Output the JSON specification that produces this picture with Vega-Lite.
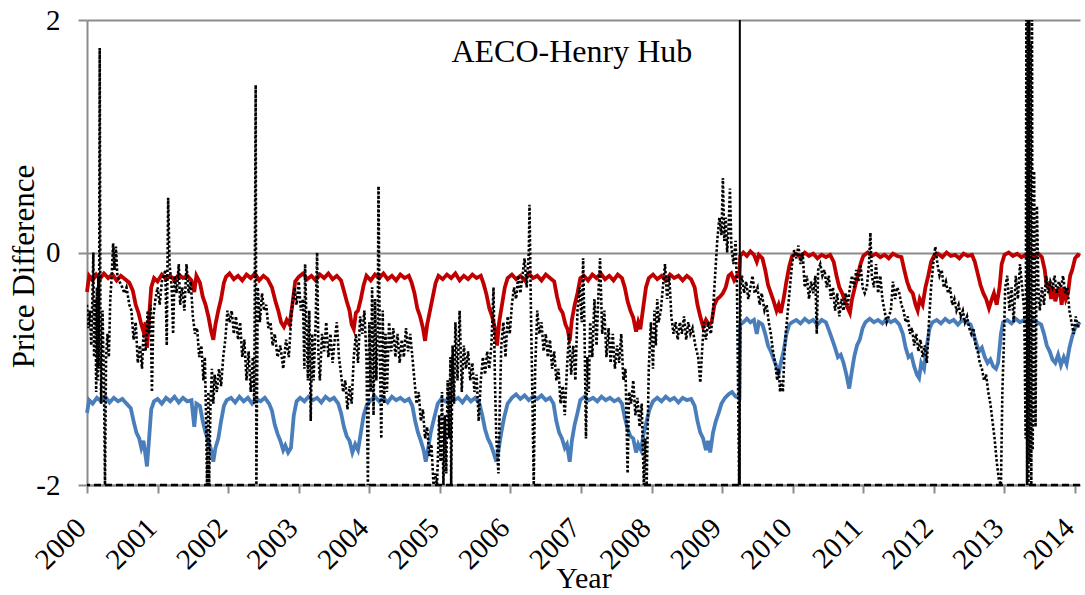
{
"$schema": "https://vega.github.io/schema/vega-lite/v6.json",
"width": 993, "height": 465,
"autosize": "none",
"padding": {"left": 87, "top": 20, "right": 5, "bottom": 110},
"background": "white",
"config": {"view": {"stroke": null}, "font": "Liberation Serif"},
"datasets": {
"red": [
{"t":2000.0,"v":-0.34},{"t":2000.03,"v":-0.2},{"t":2000.08,"v":-0.24},{"t":2000.13,"v":-0.19},{"t":2000.18,"v":-0.23},{"t":2000.24,"v":-0.18},{"t":2000.3,"v":-0.22},{"t":2000.36,"v":-0.19},{"t":2000.42,"v":-0.24},{"t":2000.48,"v":-0.2},{"t":2000.54,"v":-0.23},{"t":2000.6,"v":-0.26},{"t":2000.65,"v":-0.33},{"t":2000.69,"v":-0.45},{"t":2000.73,"v":-0.52},{"t":2000.77,"v":-0.62},{"t":2000.8,"v":-0.68},{"t":2000.83,"v":-0.6},{"t":2000.85,"v":-0.82},{"t":2000.88,"v":-0.55},{"t":2000.91,"v":-0.3},{"t":2000.95,"v":-0.22},
{"t":2001.0,"v":-0.25},{"t":2001.06,"v":-0.19},{"t":2001.12,"v":-0.23},{"t":2001.18,"v":-0.2},{"t":2001.24,"v":-0.24},{"t":2001.3,"v":-0.19},{"t":2001.36,"v":-0.22},{"t":2001.42,"v":-0.2},{"t":2001.48,"v":-0.24},{"t":2001.52,"v":-0.34},{"t":2001.55,"v":-0.2},{"t":2001.6,"v":-0.26},{"t":2001.64,"v":-0.38},{"t":2001.68,"v":-0.45},{"t":2001.72,"v":-0.55},{"t":2001.76,"v":-0.68},{"t":2001.79,"v":-0.75},{"t":2001.82,"v":-0.62},{"t":2001.86,"v":-0.5},{"t":2001.9,"v":-0.4},{"t":2001.94,"v":-0.26},{"t":2001.97,"v":-0.21},
{"t":2002.02,"v":-0.18},{"t":2002.08,"v":-0.23},{"t":2002.14,"v":-0.2},{"t":2002.2,"v":-0.24},{"t":2002.26,"v":-0.19},{"t":2002.32,"v":-0.22},{"t":2002.38,"v":-0.18},{"t":2002.44,"v":-0.24},{"t":2002.5,"v":-0.2},{"t":2002.56,"v":-0.23},{"t":2002.62,"v":-0.3},{"t":2002.67,"v":-0.42},{"t":2002.71,"v":-0.5},{"t":2002.75,"v":-0.6},{"t":2002.79,"v":-0.64},{"t":2002.83,"v":-0.58},{"t":2002.87,"v":-0.62},{"t":2002.91,"v":-0.45},{"t":2002.95,"v":-0.25},
{"t":2003.0,"v":-0.21},{"t":2003.06,"v":-0.18},{"t":2003.12,"v":-0.23},{"t":2003.18,"v":-0.2},{"t":2003.24,"v":-0.24},{"t":2003.3,"v":-0.19},{"t":2003.36,"v":-0.22},{"t":2003.42,"v":-0.18},{"t":2003.48,"v":-0.23},{"t":2003.54,"v":-0.2},{"t":2003.6,"v":-0.24},{"t":2003.64,"v":-0.33},{"t":2003.68,"v":-0.42},{"t":2003.72,"v":-0.5},{"t":2003.75,"v":-0.62},{"t":2003.78,"v":-0.66},{"t":2003.81,"v":-0.52},{"t":2003.84,"v":-0.5},{"t":2003.88,"v":-0.4},{"t":2003.92,"v":-0.28},{"t":2003.96,"v":-0.2},
{"t":2004.02,"v":-0.24},{"t":2004.08,"v":-0.19},{"t":2004.14,"v":-0.22},{"t":2004.2,"v":-0.18},{"t":2004.26,"v":-0.23},{"t":2004.32,"v":-0.2},{"t":2004.38,"v":-0.24},{"t":2004.44,"v":-0.19},{"t":2004.5,"v":-0.22},{"t":2004.56,"v":-0.2},{"t":2004.6,"v":-0.26},{"t":2004.64,"v":-0.35},{"t":2004.68,"v":-0.48},{"t":2004.72,"v":-0.55},{"t":2004.76,"v":-0.65},{"t":2004.79,"v":-0.76},{"t":2004.82,"v":-0.62},{"t":2004.86,"v":-0.5},{"t":2004.9,"v":-0.38},{"t":2004.94,"v":-0.26},{"t":2004.98,"v":-0.2},
{"t":2005.04,"v":-0.23},{"t":2005.1,"v":-0.19},{"t":2005.16,"v":-0.22},{"t":2005.22,"v":-0.18},{"t":2005.28,"v":-0.24},{"t":2005.34,"v":-0.2},{"t":2005.4,"v":-0.23},{"t":2005.46,"v":-0.19},{"t":2005.52,"v":-0.22},{"t":2005.58,"v":-0.2},{"t":2005.62,"v":-0.27},{"t":2005.66,"v":-0.36},{"t":2005.7,"v":-0.48},{"t":2005.74,"v":-0.55},{"t":2005.78,"v":-0.65},{"t":2005.81,"v":-0.8},{"t":2005.84,"v":-0.6},{"t":2005.88,"v":-0.45},{"t":2005.92,"v":-0.3},{"t":2005.96,"v":-0.22},
{"t":2006.02,"v":-0.19},{"t":2006.08,"v":-0.23},{"t":2006.14,"v":-0.2},{"t":2006.2,"v":-0.24},{"t":2006.26,"v":-0.18},{"t":2006.32,"v":-0.22},{"t":2006.38,"v":-0.2},{"t":2006.44,"v":-0.24},{"t":2006.5,"v":-0.19},{"t":2006.56,"v":-0.22},{"t":2006.62,"v":-0.25},{"t":2006.66,"v":-0.38},{"t":2006.7,"v":-0.48},{"t":2006.74,"v":-0.52},{"t":2006.78,"v":-0.62},{"t":2006.81,"v":-0.66},{"t":2006.84,"v":-0.76},{"t":2006.87,"v":-0.58},{"t":2006.91,"v":-0.45},{"t":2006.95,"v":-0.35},{"t":2006.99,"v":-0.22},
{"t":2007.04,"v":-0.2},{"t":2007.1,"v":-0.24},{"t":2007.16,"v":-0.19},{"t":2007.22,"v":-0.22},{"t":2007.28,"v":-0.18},{"t":2007.34,"v":-0.23},{"t":2007.4,"v":-0.2},{"t":2007.46,"v":-0.24},{"t":2007.52,"v":-0.19},{"t":2007.58,"v":-0.22},{"t":2007.62,"v":-0.3},{"t":2007.66,"v":-0.42},{"t":2007.7,"v":-0.5},{"t":2007.74,"v":-0.56},{"t":2007.78,"v":-0.68},{"t":2007.81,"v":-0.6},{"t":2007.84,"v":-0.66},{"t":2007.88,"v":-0.48},{"t":2007.92,"v":-0.3},{"t":2007.96,"v":-0.22},
{"t":2008.02,"v":-0.19},{"t":2008.08,"v":-0.23},{"t":2008.14,"v":-0.2},{"t":2008.2,"v":-0.24},{"t":2008.26,"v":-0.19},{"t":2008.32,"v":-0.22},{"t":2008.38,"v":-0.2},{"t":2008.44,"v":-0.24},{"t":2008.5,"v":-0.2},{"t":2008.56,"v":-0.23},{"t":2008.61,"v":-0.3},{"t":2008.65,"v":-0.45},{"t":2008.69,"v":-0.55},{"t":2008.73,"v":-0.64},{"t":2008.77,"v":-0.58},{"t":2008.81,"v":-0.62},{"t":2008.85,"v":-0.6},{"t":2008.89,"v":-0.45},{"t":2008.93,"v":-0.4},{"t":2008.97,"v":-0.38},{"t":2009.01,"v":-0.35},{"t":2009.05,"v":-0.3},{"t":2009.09,"v":-0.2},{"t":2009.13,"v":-0.18},{"t":2009.17,"v":-0.24},{"t":2009.21,"v":-0.2},{"t":2009.245,"v":-0.21},{"t":2009.255,"v":-0.03},
{"t":2009.3,"v":0.0},{"t":2009.35,"v":-0.03},{"t":2009.4,"v":0.01},{"t":2009.45,"v":-0.02},{"t":2009.49,"v":-0.08},{"t":2009.52,"v":-0.02},{"t":2009.57,"v":-0.05},{"t":2009.61,"v":-0.15},{"t":2009.65,"v":-0.28},{"t":2009.69,"v":-0.35},{"t":2009.73,"v":-0.42},{"t":2009.77,"v":-0.5},{"t":2009.8,"v":-0.45},{"t":2009.83,"v":-0.52},{"t":2009.87,"v":-0.4},{"t":2009.91,"v":-0.25},{"t":2009.95,"v":-0.12},{"t":2009.99,"v":-0.03},
{"t":2010.05,"v":-0.01},{"t":2010.11,"v":-0.04},{"t":2010.17,"v":0.0},{"t":2010.23,"v":-0.03},{"t":2010.29,"v":-0.01},{"t":2010.35,"v":-0.05},{"t":2010.41,"v":-0.02},{"t":2010.47,"v":-0.04},{"t":2010.53,"v":-0.02},{"t":2010.58,"v":-0.08},{"t":2010.62,"v":-0.2},{"t":2010.66,"v":-0.3},{"t":2010.7,"v":-0.35},{"t":2010.74,"v":-0.42},{"t":2010.78,"v":-0.48},{"t":2010.81,"v":-0.52},{"t":2010.84,"v":-0.4},{"t":2010.88,"v":-0.3},{"t":2010.92,"v":-0.2},{"t":2010.96,"v":-0.1},{"t":2011.0,"v":-0.03},
{"t":2011.06,"v":0.0},{"t":2011.12,"v":-0.03},{"t":2011.18,"v":-0.01},{"t":2011.24,"v":-0.04},{"t":2011.3,"v":-0.02},{"t":2011.36,"v":-0.05},{"t":2011.42,"v":-0.01},{"t":2011.48,"v":-0.03},{"t":2011.54,"v":-0.04},{"t":2011.58,"v":-0.15},{"t":2011.62,"v":-0.25},{"t":2011.66,"v":-0.32},{"t":2011.7,"v":-0.35},{"t":2011.74,"v":-0.45},{"t":2011.77,"v":-0.5},{"t":2011.8,"v":-0.4},{"t":2011.84,"v":-0.45},{"t":2011.88,"v":-0.3},{"t":2011.92,"v":-0.2},{"t":2011.96,"v":-0.08},{"t":2012.0,"v":-0.03},
{"t":2012.06,"v":-0.01},{"t":2012.12,"v":-0.04},{"t":2012.18,"v":0.0},{"t":2012.24,"v":-0.03},{"t":2012.3,"v":-0.02},{"t":2012.36,"v":-0.05},{"t":2012.42,"v":-0.01},{"t":2012.48,"v":-0.03},{"t":2012.54,"v":-0.02},{"t":2012.58,"v":-0.08},{"t":2012.62,"v":-0.18},{"t":2012.66,"v":-0.28},{"t":2012.7,"v":-0.35},{"t":2012.74,"v":-0.4},{"t":2012.78,"v":-0.48},{"t":2012.81,"v":-0.42},{"t":2012.85,"v":-0.35},{"t":2012.89,"v":-0.45},{"t":2012.93,"v":-0.3},{"t":2012.96,"v":-0.1},{"t":2013.0,"v":-0.02},
{"t":2013.06,"v":0.0},{"t":2013.12,"v":-0.03},{"t":2013.18,"v":-0.01},{"t":2013.24,"v":-0.04},{"t":2013.3,"v":-0.02},{"t":2013.36,"v":0.0},{"t":2013.42,"v":-0.03},{"t":2013.48,"v":-0.01},{"t":2013.53,"v":-0.04},{"t":2013.57,"v":-0.15},{"t":2013.6,"v":-0.3},{"t":2013.63,"v":-0.25},{"t":2013.66,"v":-0.4},{"t":2013.69,"v":-0.3},{"t":2013.72,"v":-0.42},{"t":2013.75,"v":-0.35},{"t":2013.78,"v":-0.3},{"t":2013.81,"v":-0.45},{"t":2013.84,"v":-0.3},{"t":2013.87,"v":-0.4},{"t":2013.9,"v":-0.35},{"t":2013.93,"v":-0.2},{"t":2013.96,"v":-0.15},{"t":2014.0,"v":-0.05},{"t":2014.04,"v":-0.02},{"t":2014.07,"v":-0.03}
],
"blue": [
{"t":2000.0,"v":-1.38},{"t":2000.03,"v":-1.27},{"t":2000.08,"v":-1.3},{"t":2000.14,"v":-1.25},{"t":2000.2,"v":-1.28},{"t":2000.26,"v":-1.24},{"t":2000.32,"v":-1.29},{"t":2000.38,"v":-1.25},{"t":2000.44,"v":-1.28},{"t":2000.5,"v":-1.26},{"t":2000.56,"v":-1.3},{"t":2000.62,"v":-1.34},{"t":2000.66,"v":-1.45},{"t":2000.7,"v":-1.55},{"t":2000.74,"v":-1.6},{"t":2000.77,"v":-1.68},{"t":2000.8,"v":-1.62},{"t":2000.83,"v":-1.75},{"t":2000.85,"v":-1.84},{"t":2000.88,"v":-1.6},{"t":2000.91,"v":-1.35},{"t":2000.95,"v":-1.28},
{"t":2001.0,"v":-1.26},{"t":2001.06,"v":-1.3},{"t":2001.12,"v":-1.25},{"t":2001.18,"v":-1.28},{"t":2001.24,"v":-1.24},{"t":2001.3,"v":-1.29},{"t":2001.36,"v":-1.25},{"t":2001.42,"v":-1.28},{"t":2001.48,"v":-1.27},{"t":2001.52,"v":-1.5},{"t":2001.55,"v":-1.3},{"t":2001.6,"v":-1.32},{"t":2001.64,"v":-1.45},{"t":2001.68,"v":-1.55},{"t":2001.72,"v":-1.62},{"t":2001.76,"v":-1.7},{"t":2001.79,"v":-1.8},{"t":2001.82,"v":-1.68},{"t":2001.86,"v":-1.6},{"t":2001.9,"v":-1.45},{"t":2001.94,"v":-1.32},{"t":2001.98,"v":-1.27},
{"t":2002.04,"v":-1.25},{"t":2002.1,"v":-1.29},{"t":2002.16,"v":-1.24},{"t":2002.22,"v":-1.28},{"t":2002.28,"v":-1.25},{"t":2002.34,"v":-1.3},{"t":2002.4,"v":-1.26},{"t":2002.46,"v":-1.28},{"t":2002.52,"v":-1.25},{"t":2002.58,"v":-1.3},{"t":2002.62,"v":-1.36},{"t":2002.66,"v":-1.48},{"t":2002.7,"v":-1.56},{"t":2002.74,"v":-1.62},{"t":2002.78,"v":-1.7},{"t":2002.81,"v":-1.66},{"t":2002.85,"v":-1.72},{"t":2002.89,"v":-1.68},{"t":2002.93,"v":-1.4},{"t":2002.97,"v":-1.28},
{"t":2003.02,"v":-1.25},{"t":2003.08,"v":-1.28},{"t":2003.14,"v":-1.24},{"t":2003.2,"v":-1.27},{"t":2003.26,"v":-1.25},{"t":2003.32,"v":-1.29},{"t":2003.38,"v":-1.24},{"t":2003.44,"v":-1.27},{"t":2003.5,"v":-1.25},{"t":2003.56,"v":-1.3},{"t":2003.6,"v":-1.38},{"t":2003.64,"v":-1.5},{"t":2003.68,"v":-1.58},{"t":2003.72,"v":-1.62},{"t":2003.76,"v":-1.72},{"t":2003.8,"v":-1.65},{"t":2003.84,"v":-1.7},{"t":2003.88,"v":-1.55},{"t":2003.92,"v":-1.4},{"t":2003.96,"v":-1.32},
{"t":2004.02,"v":-1.27},{"t":2004.08,"v":-1.24},{"t":2004.14,"v":-1.28},{"t":2004.2,"v":-1.25},{"t":2004.26,"v":-1.29},{"t":2004.32,"v":-1.24},{"t":2004.38,"v":-1.27},{"t":2004.44,"v":-1.25},{"t":2004.5,"v":-1.28},{"t":2004.56,"v":-1.26},{"t":2004.61,"v":-1.32},{"t":2004.65,"v":-1.45},{"t":2004.69,"v":-1.55},{"t":2004.73,"v":-1.62},{"t":2004.77,"v":-1.7},{"t":2004.8,"v":-1.8},{"t":2004.83,"v":-1.7},{"t":2004.87,"v":-1.55},{"t":2004.92,"v":-1.42},{"t":2004.97,"v":-1.3},
{"t":2005.02,"v":-1.26},{"t":2005.08,"v":-1.28},{"t":2005.14,"v":-1.24},{"t":2005.2,"v":-1.27},{"t":2005.26,"v":-1.25},{"t":2005.32,"v":-1.29},{"t":2005.38,"v":-1.24},{"t":2005.44,"v":-1.28},{"t":2005.5,"v":-1.25},{"t":2005.56,"v":-1.3},{"t":2005.6,"v":-1.4},{"t":2005.64,"v":-1.52},{"t":2005.68,"v":-1.6},{"t":2005.72,"v":-1.65},{"t":2005.76,"v":-1.72},{"t":2005.8,"v":-1.8},{"t":2005.83,"v":-1.7},{"t":2005.87,"v":-1.55},{"t":2005.91,"v":-1.42},{"t":2005.96,"v":-1.3},
{"t":2006.02,"v":-1.25},{"t":2006.08,"v":-1.22},{"t":2006.14,"v":-1.26},{"t":2006.2,"v":-1.23},{"t":2006.26,"v":-1.27},{"t":2006.32,"v":-1.24},{"t":2006.38,"v":-1.26},{"t":2006.44,"v":-1.23},{"t":2006.5,"v":-1.27},{"t":2006.56,"v":-1.25},{"t":2006.61,"v":-1.3},{"t":2006.65,"v":-1.45},{"t":2006.69,"v":-1.55},{"t":2006.73,"v":-1.6},{"t":2006.77,"v":-1.68},{"t":2006.8,"v":-1.65},{"t":2006.84,"v":-1.8},{"t":2006.87,"v":-1.62},{"t":2006.91,"v":-1.48},{"t":2006.95,"v":-1.38},{"t":2006.99,"v":-1.27},
{"t":2007.05,"v":-1.24},{"t":2007.11,"v":-1.27},{"t":2007.17,"v":-1.25},{"t":2007.23,"v":-1.28},{"t":2007.29,"v":-1.24},{"t":2007.35,"v":-1.27},{"t":2007.41,"v":-1.25},{"t":2007.47,"v":-1.28},{"t":2007.53,"v":-1.26},{"t":2007.58,"v":-1.3},{"t":2007.62,"v":-1.42},{"t":2007.66,"v":-1.52},{"t":2007.7,"v":-1.58},{"t":2007.74,"v":-1.6},{"t":2007.78,"v":-1.72},{"t":2007.81,"v":-1.65},{"t":2007.85,"v":-1.7},{"t":2007.89,"v":-1.55},{"t":2007.93,"v":-1.45},{"t":2007.97,"v":-1.35},
{"t":2008.02,"v":-1.28},{"t":2008.08,"v":-1.25},{"t":2008.14,"v":-1.28},{"t":2008.2,"v":-1.24},{"t":2008.26,"v":-1.27},{"t":2008.32,"v":-1.25},{"t":2008.38,"v":-1.29},{"t":2008.44,"v":-1.25},{"t":2008.5,"v":-1.27},{"t":2008.56,"v":-1.26},{"t":2008.61,"v":-1.32},{"t":2008.65,"v":-1.45},{"t":2008.69,"v":-1.55},{"t":2008.73,"v":-1.6},{"t":2008.77,"v":-1.7},{"t":2008.8,"v":-1.62},{"t":2008.83,"v":-1.72},{"t":2008.87,"v":-1.55},{"t":2008.91,"v":-1.45},{"t":2008.95,"v":-1.38},{"t":2008.99,"v":-1.3},{"t":2009.04,"v":-1.25},{"t":2009.09,"v":-1.22},{"t":2009.14,"v":-1.2},{"t":2009.19,"v":-1.24},{"t":2009.245,"v":-1.25},{"t":2009.255,"v":-0.62},
{"t":2009.3,"v":-0.6},{"t":2009.35,"v":-0.57},{"t":2009.4,"v":-0.6},{"t":2009.45,"v":-0.58},{"t":2009.49,"v":-0.7},{"t":2009.52,"v":-0.6},{"t":2009.57,"v":-0.62},{"t":2009.61,"v":-0.7},{"t":2009.65,"v":-0.8},{"t":2009.69,"v":-0.85},{"t":2009.73,"v":-0.92},{"t":2009.77,"v":-0.98},{"t":2009.8,"v":-1.05},{"t":2009.83,"v":-0.95},{"t":2009.87,"v":-0.85},{"t":2009.91,"v":-0.7},{"t":2009.95,"v":-0.62},{"t":2009.99,"v":-0.6},
{"t":2010.05,"v":-0.58},{"t":2010.11,"v":-0.61},{"t":2010.17,"v":-0.57},{"t":2010.23,"v":-0.6},{"t":2010.29,"v":-0.58},{"t":2010.35,"v":-0.62},{"t":2010.41,"v":-0.58},{"t":2010.47,"v":-0.6},{"t":2010.52,"v":-0.68},{"t":2010.56,"v":-0.75},{"t":2010.6,"v":-0.82},{"t":2010.64,"v":-0.9},{"t":2010.68,"v":-0.88},{"t":2010.72,"v":-0.95},{"t":2010.76,"v":-1.05},{"t":2010.8,"v":-1.17},{"t":2010.83,"v":-1.05},{"t":2010.87,"v":-0.9},{"t":2010.91,"v":-0.8},{"t":2010.95,"v":-0.75},{"t":2010.99,"v":-0.65},
{"t":2011.03,"v":-0.6},{"t":2011.09,"v":-0.57},{"t":2011.15,"v":-0.6},{"t":2011.21,"v":-0.58},{"t":2011.27,"v":-0.61},{"t":2011.33,"v":-0.57},{"t":2011.39,"v":-0.6},{"t":2011.45,"v":-0.58},{"t":2011.51,"v":-0.62},{"t":2011.56,"v":-0.7},{"t":2011.6,"v":-0.82},{"t":2011.64,"v":-0.9},{"t":2011.68,"v":-0.88},{"t":2011.72,"v":-0.98},{"t":2011.76,"v":-1.05},{"t":2011.79,"v":-1.08},{"t":2011.82,"v":-0.95},{"t":2011.86,"v":-1.0},{"t":2011.9,"v":-0.8},{"t":2011.94,"v":-0.65},{"t":2011.98,"v":-0.6},
{"t":2012.04,"v":-0.58},{"t":2012.1,"v":-0.61},{"t":2012.16,"v":-0.57},{"t":2012.22,"v":-0.6},{"t":2012.28,"v":-0.58},{"t":2012.34,"v":-0.62},{"t":2012.4,"v":-0.58},{"t":2012.46,"v":-0.6},{"t":2012.52,"v":-0.62},{"t":2012.56,"v":-0.7},{"t":2012.6,"v":-0.78},{"t":2012.64,"v":-0.85},{"t":2012.68,"v":-0.82},{"t":2012.72,"v":-0.9},{"t":2012.76,"v":-0.95},{"t":2012.8,"v":-0.92},{"t":2012.84,"v":-0.98},{"t":2012.88,"v":-1.0},{"t":2012.91,"v":-0.95},{"t":2012.95,"v":-0.7},{"t":2012.98,"v":-0.6},
{"t":2013.04,"v":-0.58},{"t":2013.1,"v":-0.61},{"t":2013.16,"v":-0.57},{"t":2013.22,"v":-0.6},{"t":2013.28,"v":-0.58},{"t":2013.34,"v":-0.62},{"t":2013.4,"v":-0.58},{"t":2013.46,"v":-0.6},{"t":2013.52,"v":-0.62},{"t":2013.56,"v":-0.7},{"t":2013.6,"v":-0.8},{"t":2013.64,"v":-0.85},{"t":2013.68,"v":-0.92},{"t":2013.72,"v":-0.95},{"t":2013.76,"v":-0.88},{"t":2013.8,"v":-0.97},{"t":2013.84,"v":-0.9},{"t":2013.88,"v":-0.96},{"t":2013.92,"v":-0.82},{"t":2013.96,"v":-0.72},{"t":2014.0,"v":-0.65},{"t":2014.04,"v":-0.62},{"t":2014.07,"v":-0.6}
],
"act": [
{"t":2000.0,"v":-0.45},{"t":2000.02,"v":-0.65},{"t":2000.04,"v":-0.5},{"t":2000.06,"v":-0.8},{"t":2000.08,"v":-0.3},{"t":2000.09,"v":0.0},{"t":2000.1,"v":-0.9},{"t":2000.12,"v":-0.4},{"t":2000.13,"v":-1.2},{"t":2000.14,"v":-0.3},{"t":2000.15,"v":-1.1},{"t":2000.16,"v":-0.2},{"t":2000.17,"v":-1.0},{"t":2000.18,"v":1.76},{"t":2000.19,"v":-0.6},{"t":2000.2,"v":-1.3},{"t":2000.22,"v":-0.5},{"t":2000.24,"v":-1.1},{"t":2000.255,"v":-2},{"t":2000.27,"v":-0.9},{"t":2000.29,"v":-0.7},{"t":2000.31,"v":-0.9},{"t":2000.33,"v":-0.4},{"t":2000.35,"v":-0.2},{"t":2000.37,"v":0.08},{"t":2000.39,"v":-0.15},{"t":2000.41,"v":0.05},{"t":2000.43,"v":-0.2},{"t":2000.46,"v":-0.25},{"t":2000.5,"v":-0.3},{"t":2000.53,"v":-0.35},{"t":2000.56,"v":-0.3},{"t":2000.6,"v":-0.45},{"t":2000.63,"v":-0.5},{"t":2000.66,"v":-0.75},{"t":2000.69,"v":-0.6},{"t":2000.72,"v":-0.95},{"t":2000.75,"v":-0.8},{"t":2000.78,"v":-1.0},{"t":2000.8,"v":-0.7},{"t":2000.83,"v":-0.85},{"t":2000.86,"v":-0.5},{"t":2000.88,"v":-0.7},{"t":2000.9,"v":-0.45},{"t":2000.92,"v":-1.2},{"t":2000.94,"v":-0.55},{"t":2000.97,"v":-0.4},
{"t":2001.0,"v":-0.3},{"t":2001.03,"v":-0.45},{"t":2001.06,"v":-0.25},{"t":2001.09,"v":-0.2},{"t":2001.11,"v":-0.15},{"t":2001.13,"v":-0.8},{"t":2001.15,"v":0.47},{"t":2001.17,"v":-0.1},{"t":2001.2,"v":-0.3},{"t":2001.22,"v":-0.7},{"t":2001.24,"v":-0.2},{"t":2001.27,"v":-0.35},{"t":2001.3,"v":-0.1},{"t":2001.32,"v":-0.45},{"t":2001.35,"v":-0.3},{"t":2001.38,"v":-0.5},{"t":2001.41,"v":-0.1},{"t":2001.44,"v":-0.35},{"t":2001.47,"v":-0.25},{"t":2001.5,"v":-0.55},{"t":2001.53,"v":-0.7},{"t":2001.56,"v":-0.65},{"t":2001.59,"v":-0.9},{"t":2001.62,"v":-0.8},{"t":2001.65,"v":-1.1},{"t":2001.67,"v":-0.9},{"t":2001.69,"v":-1.5},{"t":2001.7,"v":-2},{"t":2001.72,"v":-1.2},{"t":2001.73,"v":-2},{"t":2001.75,"v":-1.3},{"t":2001.77,"v":-1.0},{"t":2001.79,"v":-1.3},{"t":2001.81,"v":-1.05},{"t":2001.84,"v":-1.2},{"t":2001.87,"v":-1.0},{"t":2001.9,"v":-1.15},{"t":2001.93,"v":-0.9},{"t":2001.96,"v":-0.75},{"t":2001.99,"v":-0.5},
{"t":2002.02,"v":-0.6},{"t":2002.05,"v":-0.5},{"t":2002.08,"v":-0.7},{"t":2002.11,"v":-0.55},{"t":2002.14,"v":-0.75},{"t":2002.17,"v":-0.6},{"t":2002.2,"v":-0.9},{"t":2002.23,"v":-0.75},{"t":2002.26,"v":-1.1},{"t":2002.29,"v":-0.85},{"t":2002.32,"v":-1.2},{"t":2002.35,"v":-0.9},{"t":2002.37,"v":-1.3},{"t":2002.39,"v":1.44},{"t":2002.4,"v":-2},{"t":2002.42,"v":-0.3},{"t":2002.45,"v":-0.6},{"t":2002.48,"v":-0.35},{"t":2002.51,"v":-0.5},{"t":2002.54,"v":-0.45},{"t":2002.57,"v":-0.65},{"t":2002.6,"v":-0.6},{"t":2002.63,"v":-0.8},{"t":2002.66,"v":-0.7},{"t":2002.7,"v":-0.9},{"t":2002.74,"v":-0.8},{"t":2002.78,"v":-1.0},{"t":2002.82,"v":-0.75},{"t":2002.86,"v":-0.9},{"t":2002.9,"v":-0.5},{"t":2002.94,"v":-0.3},{"t":2002.97,"v":-0.45},
{"t":2003.0,"v":-0.25},{"t":2003.03,"v":-0.5},{"t":2003.06,"v":-0.4},{"t":2003.08,"v":-1.0},{"t":2003.09,"v":-0.1},{"t":2003.11,"v":-0.6},{"t":2003.13,"v":-1.1},{"t":2003.15,"v":-0.5},{"t":2003.17,"v":-1.45},{"t":2003.19,"v":-0.7},{"t":2003.21,"v":-1.1},{"t":2003.24,"v":-0.6},{"t":2003.26,"v":0.0},{"t":2003.28,"v":-0.9},{"t":2003.3,"v":-1.1},{"t":2003.33,"v":-0.7},{"t":2003.36,"v":-0.85},{"t":2003.39,"v":-0.6},{"t":2003.42,"v":-0.9},{"t":2003.45,"v":-0.7},{"t":2003.48,"v":-0.95},{"t":2003.51,"v":-0.75},{"t":2003.54,"v":-0.6},{"t":2003.57,"v":-0.9},{"t":2003.6,"v":-1.05},{"t":2003.63,"v":-1.2},{"t":2003.66,"v":-1.1},{"t":2003.69,"v":-1.35},{"t":2003.72,"v":-1.15},{"t":2003.75,"v":-1.3},{"t":2003.78,"v":-0.9},{"t":2003.81,"v":-0.7},{"t":2003.84,"v":-0.95},{"t":2003.87,"v":-0.55},{"t":2003.9,"v":-0.7},{"t":2003.93,"v":-0.5},{"t":2003.96,"v":-0.9},{"t":2003.98,"v":-2},{"t":2004.0,"v":-0.6},
{"t":2004.02,"v":-1.2},{"t":2004.04,"v":-0.3},{"t":2004.06,"v":-1.4},{"t":2004.08,"v":-0.4},{"t":2004.1,"v":-1.1},{"t":2004.12,"v":-0.6},{"t":2004.13,"v":0.57},{"t":2004.15,"v":-0.9},{"t":2004.17,"v":-1.6},{"t":2004.19,"v":-0.5},{"t":2004.21,"v":-1.3},{"t":2004.23,"v":-0.7},{"t":2004.25,"v":-1.2},{"t":2004.28,"v":-0.6},{"t":2004.31,"v":-0.85},{"t":2004.34,"v":-0.65},{"t":2004.37,"v":-0.9},{"t":2004.4,"v":-0.7},{"t":2004.43,"v":-0.95},{"t":2004.46,"v":-0.75},{"t":2004.49,"v":-0.9},{"t":2004.52,"v":-0.65},{"t":2004.55,"v":-0.85},{"t":2004.58,"v":-0.7},{"t":2004.61,"v":-0.9},{"t":2004.64,"v":-1.1},{"t":2004.67,"v":-1.3},{"t":2004.7,"v":-1.2},{"t":2004.73,"v":-1.45},{"t":2004.76,"v":-1.35},{"t":2004.79,"v":-1.6},{"t":2004.82,"v":-1.5},{"t":2004.85,"v":-1.75},{"t":2004.88,"v":-1.65},{"t":2004.91,"v":-2},{"t":2004.93,"v":-1.9},{"t":2004.96,"v":-2},{"t":2004.99,"v":-1.4},
{"t":2005.01,"v":-1.8},{"t":2005.03,"v":-1.2},{"t":2005.05,"v":-2},{"t":2005.07,"v":-1.4},{"t":2005.09,"v":-1.9},{"t":2005.11,"v":-1.1},{"t":2005.13,"v":-1.6},{"t":2005.15,"v":-0.9},{"t":2005.16,"v":-2},{"t":2005.18,"v":-0.8},{"t":2005.2,"v":-1.3},{"t":2005.22,"v":-0.6},{"t":2005.25,"v":-1.1},{"t":2005.28,"v":-0.5},{"t":2005.31,"v":-1.2},{"t":2005.34,"v":-0.8},{"t":2005.37,"v":-1.0},{"t":2005.4,"v":-0.85},{"t":2005.43,"v":-1.1},{"t":2005.46,"v":-0.95},{"t":2005.49,"v":-1.2},{"t":2005.52,"v":-1.05},{"t":2005.55,"v":-1.45},{"t":2005.58,"v":-1.1},{"t":2005.61,"v":-0.9},{"t":2005.64,"v":-1.05},{"t":2005.67,"v":-0.85},{"t":2005.7,"v":-1.0},{"t":2005.73,"v":-0.8},{"t":2005.76,"v":-0.3},{"t":2005.78,"v":-1.1},{"t":2005.8,"v":-1.6},{"t":2005.83,"v":-1.9},{"t":2005.85,"v":-1.3},{"t":2005.87,"v":-0.8},{"t":2005.9,"v":-0.6},{"t":2005.93,"v":-0.9},{"t":2005.96,"v":-0.55},{"t":2005.99,"v":-0.7},
{"t":2006.02,"v":-0.45},{"t":2006.05,"v":-0.3},{"t":2006.08,"v":-0.4},{"t":2006.11,"v":-0.2},{"t":2006.14,"v":-0.35},{"t":2006.17,"v":-0.2},{"t":2006.2,"v":-0.05},{"t":2006.23,"v":-0.3},{"t":2006.26,"v":0.0},{"t":2006.27,"v":0.41},{"t":2006.29,"v":-0.5},{"t":2006.31,"v":-1.2},{"t":2006.33,"v":-2},{"t":2006.35,"v":-1.0},{"t":2006.38,"v":-0.5},{"t":2006.41,"v":-0.7},{"t":2006.44,"v":-0.6},{"t":2006.47,"v":-0.85},{"t":2006.5,"v":-0.7},{"t":2006.53,"v":-0.9},{"t":2006.56,"v":-0.75},{"t":2006.59,"v":-1.0},{"t":2006.62,"v":-0.85},{"t":2006.65,"v":-1.1},{"t":2006.68,"v":-1.0},{"t":2006.71,"v":-1.3},{"t":2006.74,"v":-1.15},{"t":2006.77,"v":-1.4},{"t":2006.8,"v":-1.0},{"t":2006.83,"v":-0.7},{"t":2006.86,"v":-1.05},{"t":2006.89,"v":-0.8},{"t":2006.92,"v":-1.1},{"t":2006.95,"v":-0.5},{"t":2006.98,"v":-0.3},
{"t":2007.01,"v":-0.6},{"t":2007.03,"v":-0.05},{"t":2007.05,"v":-0.7},{"t":2007.07,"v":-1.6},{"t":2007.09,"v":-0.9},{"t":2007.11,"v":-1.2},{"t":2007.13,"v":-0.6},{"t":2007.16,"v":-0.9},{"t":2007.19,"v":-0.4},{"t":2007.22,"v":-0.8},{"t":2007.25,"v":-0.3},{"t":2007.27,"v":-0.05},{"t":2007.3,"v":-0.7},{"t":2007.33,"v":-0.5},{"t":2007.36,"v":-0.9},{"t":2007.39,"v":-0.65},{"t":2007.42,"v":-0.95},{"t":2007.45,"v":-0.7},{"t":2007.48,"v":-1.0},{"t":2007.51,"v":-0.8},{"t":2007.54,"v":-0.95},{"t":2007.57,"v":-0.7},{"t":2007.6,"v":-1.1},{"t":2007.63,"v":-1.0},{"t":2007.66,"v":-1.9},{"t":2007.68,"v":-1.2},{"t":2007.71,"v":-1.3},{"t":2007.74,"v":-1.1},{"t":2007.77,"v":-1.4},{"t":2007.8,"v":-1.25},{"t":2007.83,"v":-1.5},{"t":2007.86,"v":-1.3},{"t":2007.89,"v":-2},{"t":2007.91,"v":-1.6},{"t":2007.93,"v":-2},{"t":2007.96,"v":-1.0},{"t":2007.99,"v":-0.6},
{"t":2008.02,"v":-1.0},{"t":2008.04,"v":-0.5},{"t":2008.06,"v":-0.8},{"t":2008.08,"v":-0.4},{"t":2008.1,"v":-0.6},{"t":2008.13,"v":-0.5},{"t":2008.16,"v":-0.3},{"t":2008.19,"v":-0.1},{"t":2008.22,"v":-0.4},{"t":2008.25,"v":-0.2},{"t":2008.28,"v":-0.55},{"t":2008.31,"v":-0.7},{"t":2008.34,"v":-0.6},{"t":2008.37,"v":-0.75},{"t":2008.4,"v":-0.6},{"t":2008.43,"v":-0.7},{"t":2008.46,"v":-0.55},{"t":2008.49,"v":-0.75},{"t":2008.52,"v":-0.6},{"t":2008.55,"v":-0.7},{"t":2008.58,"v":-0.65},{"t":2008.62,"v":-0.8},{"t":2008.66,"v":-0.9},{"t":2008.69,"v":-1.12},{"t":2008.71,"v":-0.9},{"t":2008.74,"v":-0.6},{"t":2008.77,"v":-0.75},{"t":2008.8,"v":-0.6},{"t":2008.84,"v":-0.7},{"t":2008.87,"v":-0.5},{"t":2008.9,"v":-0.2},{"t":2008.93,"v":0.1},{"t":2008.96,"v":0.3},{"t":2008.99,"v":0.15},{"t":2009.01,"v":0.64},{"t":2009.03,"v":0.1},{"t":2009.05,"v":0.3},{"t":2009.07,"v":0.0},{"t":2009.09,"v":0.2},{"t":2009.11,"v":0.55},{"t":2009.13,"v":0.05},{"t":2009.16,"v":-0.1},{"t":2009.19,"v":0.1},{"t":2009.21,"v":-0.3},{"t":2009.24,"v":-2},{"t":2009.26,"v":-0.3},{"t":2009.28,"v":-0.2},{"t":2009.31,"v":-0.35},{"t":2009.34,"v":-0.25},{"t":2009.37,"v":-0.4},{"t":2009.4,"v":-0.3},{"t":2009.43,"v":-0.2},{"t":2009.46,"v":-0.35},{"t":2009.5,"v":-0.3},{"t":2009.53,"v":-0.45},{"t":2009.56,"v":-0.35},{"t":2009.6,"v":-0.5},{"t":2009.63,"v":-0.45},{"t":2009.66,"v":-0.6},{"t":2009.69,"v":-0.7},{"t":2009.72,"v":-0.85},{"t":2009.75,"v":-0.95},{"t":2009.78,"v":-1.1},{"t":2009.8,"v":-1.0},{"t":2009.82,"v":-1.2},{"t":2009.84,"v":-1.1},{"t":2009.86,"v":-1.2},{"t":2009.88,"v":-0.9},{"t":2009.9,"v":-0.7},{"t":2009.93,"v":-0.5},{"t":2009.96,"v":-0.3},{"t":2009.99,"v":-0.1},
{"t":2010.02,"v":0.02},{"t":2010.05,"v":-0.05},{"t":2010.08,"v":0.06},{"t":2010.11,"v":-0.1},{"t":2010.14,"v":0.0},{"t":2010.17,"v":-0.3},{"t":2010.2,"v":-0.2},{"t":2010.23,"v":-0.4},{"t":2010.26,"v":-0.25},{"t":2010.29,"v":-0.35},{"t":2010.32,"v":-0.2},{"t":2010.34,"v":-0.7},{"t":2010.36,"v":-0.15},{"t":2010.39,"v":-0.1},{"t":2010.42,"v":-0.2},{"t":2010.45,"v":-0.15},{"t":2010.48,"v":-0.3},{"t":2010.51,"v":-0.2},{"t":2010.54,"v":-0.4},{"t":2010.57,"v":-0.3},{"t":2010.6,"v":-0.5},{"t":2010.63,"v":-0.35},{"t":2010.66,"v":-0.55},{"t":2010.69,"v":-0.4},{"t":2010.72,"v":-0.5},{"t":2010.75,"v":-0.35},{"t":2010.78,"v":-0.45},{"t":2010.81,"v":-0.3},{"t":2010.84,"v":-0.2},{"t":2010.87,"v":-0.3},{"t":2010.9,"v":-0.15},{"t":2010.93,"v":-0.25},{"t":2010.96,"v":-0.1},{"t":2010.99,"v":-0.3},
{"t":2011.02,"v":-0.35},{"t":2011.05,"v":-0.3},{"t":2011.08,"v":-0.1},{"t":2011.1,"v":0.17},{"t":2011.12,"v":-0.2},{"t":2011.15,"v":-0.3},{"t":2011.18,"v":-0.1},{"t":2011.21,"v":-0.35},{"t":2011.24,"v":-0.2},{"t":2011.27,"v":-0.4},{"t":2011.3,"v":-0.5},{"t":2011.33,"v":-0.6},{"t":2011.36,"v":-0.55},{"t":2011.39,"v":-0.5},{"t":2011.42,"v":-0.25},{"t":2011.45,"v":-0.4},{"t":2011.48,"v":-0.3},{"t":2011.51,"v":-0.35},{"t":2011.54,"v":-0.45},{"t":2011.57,"v":-0.5},{"t":2011.6,"v":-0.6},{"t":2011.63,"v":-0.55},{"t":2011.66,"v":-0.7},{"t":2011.69,"v":-0.65},{"t":2011.72,"v":-0.8},{"t":2011.75,"v":-0.7},{"t":2011.78,"v":-0.85},{"t":2011.81,"v":-0.75},{"t":2011.84,"v":-0.9},{"t":2011.87,"v":-0.8},{"t":2011.9,"v":-0.95},{"t":2011.93,"v":-0.6},{"t":2011.96,"v":-0.3},{"t":2011.99,"v":-0.1},
{"t":2012.02,"v":0.05},{"t":2012.05,"v":-0.1},{"t":2012.08,"v":-0.2},{"t":2012.11,"v":-0.15},{"t":2012.14,"v":-0.3},{"t":2012.17,"v":-0.25},{"t":2012.2,"v":-0.35},{"t":2012.23,"v":-0.3},{"t":2012.26,"v":-0.45},{"t":2012.29,"v":-0.4},{"t":2012.32,"v":-0.5},{"t":2012.35,"v":-0.45},{"t":2012.38,"v":-0.55},{"t":2012.41,"v":-0.5},{"t":2012.44,"v":-0.6},{"t":2012.47,"v":-0.55},{"t":2012.5,"v":-0.65},{"t":2012.53,"v":-0.7},{"t":2012.56,"v":-0.65},{"t":2012.59,"v":-0.8},{"t":2012.62,"v":-0.85},{"t":2012.65,"v":-0.95},{"t":2012.68,"v":-1.0},{"t":2012.71,"v":-1.1},{"t":2012.74,"v":-1.05},{"t":2012.77,"v":-1.2},{"t":2012.8,"v":-1.3},{"t":2012.83,"v":-1.45},{"t":2012.86,"v":-1.6},{"t":2012.89,"v":-1.8},{"t":2012.92,"v":-1.95},{"t":2012.95,"v":-2},{"t":2012.97,"v":-1.2},{"t":2012.99,"v":-0.8},
{"t":2013.01,"v":-0.3},{"t":2013.04,"v":-0.2},{"t":2013.07,"v":-0.5},{"t":2013.1,"v":-0.3},{"t":2013.13,"v":-0.6},{"t":2013.16,"v":-0.2},{"t":2013.19,"v":-0.4},{"t":2013.22,"v":-0.1},{"t":2013.25,"v":-0.3},{"t":2013.28,"v":-0.5},{"t":2013.3,"v":-1.6},{"t":2013.31,"v":2},{"t":2013.32,"v":-2},{"t":2013.33,"v":2},{"t":2013.34,"v":-2},{"t":2013.35,"v":2},{"t":2013.36,"v":-1.8},{"t":2013.37,"v":1.8},{"t":2013.38,"v":-2},{"t":2013.39,"v":2},{"t":2013.4,"v":-1.7},{"t":2013.42,"v":0.7},{"t":2013.44,"v":-1.5},{"t":2013.46,"v":0.4},{"t":2013.48,"v":-0.3},{"t":2013.5,"v":-0.5},{"t":2013.53,"v":-0.3},{"t":2013.56,"v":-0.45},{"t":2013.59,"v":-0.2},{"t":2013.62,"v":-0.35},{"t":2013.65,"v":-0.25},{"t":2013.68,"v":-0.3},{"t":2013.71,"v":-0.2},{"t":2013.74,"v":-0.35},{"t":2013.77,"v":-0.25},{"t":2013.8,"v":-0.3},{"t":2013.83,"v":-0.2},{"t":2013.86,"v":-0.35},{"t":2013.89,"v":-0.3},{"t":2013.92,"v":-0.5},{"t":2013.95,"v":-0.6},{"t":2013.98,"v":-0.7},{"t":2014.01,"v":-0.55},{"t":2014.04,"v":-0.65},{"t":2014.06,"v":-0.6}
]
},
"layer": [
{"data": {"name": "blue"},
 "mark": {"type": "line", "color": "#4a7ebb", "strokeWidth": 3.8},
 "encoding": {
  "x": {"field": "t", "type": "quantitative",
        "scale": {"domain": [2000, 2014.07], "nice": false, "zero": false},
        "axis": {"values": [2000,2001,2002,2003,2004,2005,2006,2007,2008,2009,2010,2011,2012,2013,2014],
                 "format": "d", "labelAngle": -45, "labelAlign": "right", "labelBaseline": "middle",
                 "labelFont": "Liberation Serif", "labelFontSize": 29, "labelColor": "black", "labelPadding": 30, "labelOffset": -6,
                 "tickSize": 8, "tickColor": "#8c8c8c", "tickWidth": 2,
                 "domainColor": "#8c8c8c", "domainWidth": 2, "grid": false,
                 "title": "Year", "titleFont": "Liberation Serif", "titleFontSize": 30, "titleFontWeight": "normal",
                 "titleColor": "black", "titlePadding": -11}},
  "y": {"field": "v", "type": "quantitative",
        "scale": {"domain": [-2, 2], "nice": false, "zero": false},
        "axis": {"values": [-2, 0, 2], "labelExpr": "'' + datum.value", "labelFont": "Liberation Serif", "labelFontSize": 29, "labelColor": "black",
                 "labelPadding": 18, "tickSize": 9, "tickColor": "#8c8c8c", "tickWidth": 2,
                 "domainColor": "#8c8c8c", "domainWidth": 2,
                 "grid": true, "gridColor": "#8c8c8c", "gridWidth": 2,
                 "title": "Price Difference", "titleFont": "Liberation Serif", "titleFontSize": 31,
                 "titleFontWeight": "normal", "titleColor": "black", "titlePadding": -5, "titleY": 246}}
 }},
{"data": {"name": "red"},
 "mark": {"type": "line", "color": "#c00000", "strokeWidth": 3.8},
 "encoding": {"x": {"field": "t", "type": "quantitative"}, "y": {"field": "v", "type": "quantitative"}}},
{"data": {"name": "act"},
 "mark": {"type": "line", "color": "black", "strokeWidth": 2.6, "strokeDash": [2.5, 2], "clip": true},
 "encoding": {"x": {"field": "t", "type": "quantitative"}, "y": {"field": "v", "type": "quantitative"}}},
{"data": {"values": [{}]},
 "mark": {"type": "rule", "color": "black", "strokeWidth": 2.5, "strokeDash": [7, 4]},
 "encoding": {"y": {"datum": -2}}},
{"data": {"values": [{}]},
 "mark": {"type": "rule", "color": "black", "strokeWidth": 2},
 "encoding": {"x": {"datum": 2009.25}}},
{"data": {"values": [{}]},
 "mark": {"type": "text", "font": "Liberation Serif", "fontSize": 32, "color": "black", "align": "center", "baseline": "alphabetic"},
 "encoding": {"x": {"datum": 2006.87}, "y": {"datum": 1.64}, "text": {"value": "AECO-Henry Hub"}}}
]
}
